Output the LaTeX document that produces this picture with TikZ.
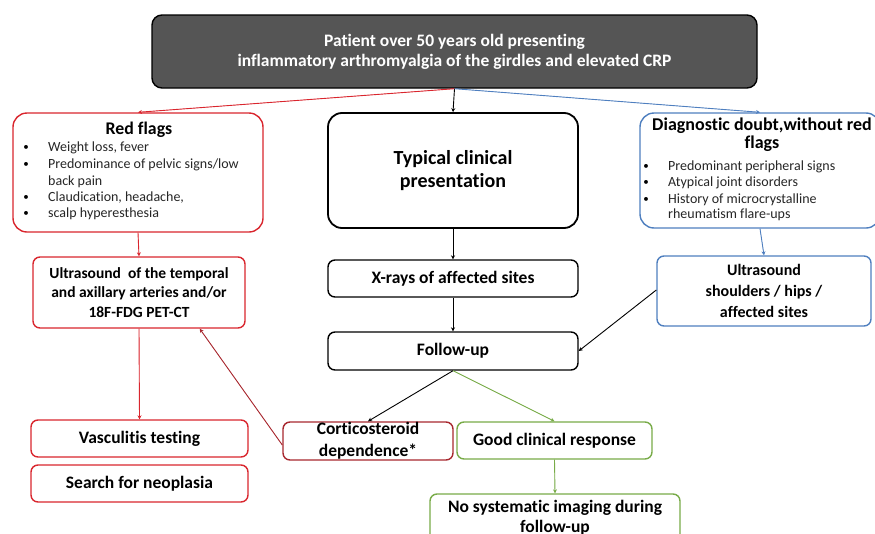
\documentclass[tikz,border=0pt]{standalone}
\usepackage{fontspec}
\setmainfont{Carlito}[RawFeature={-liga;-clig;-calt;-dlig}]
\usetikzlibrary{arrows.meta}
\definecolor{rf}{HTML}{D9262E}
\definecolor{drf}{HTML}{A8282F}
\definecolor{bl}{HTML}{4F7FBF}
\definecolor{gr}{HTML}{78AB48}
\definecolor{topfill}{HTML}{555555}
\tikzset{
  box/.style={draw, rounded corners=7pt, line width=1.4pt, fill=white, inner sep=0pt, align=center, font=\bfseries\fontsize{17.5}{21}\selectfont},
  bigbox/.style={box, rounded corners=14pt},
  txt/.style={inner sep=0pt, align=center},
  itm/.style={inner sep=0pt, anchor=west, text=black!85, font=\fontsize{14}{16}\selectfont},
  bul/.style={inner sep=0pt, font=\fontsize{11}{13}\selectfont},
  arr/.style={-{Stealth[length=4pt,width=4pt]}, line width=0.9pt},
}
\begin{document}
\begin{tikzpicture}[x=1pt,y=-1pt]
\useasboundingbox (0,0) rectangle (875,533);
\begin{scope}
\clip (0,0) rectangle (875,533);
% top
\node[box, draw=black, fill=topfill, text=white, rounded corners=10pt, minimum width=605pt, minimum height=73pt, font=\bfseries\fontsize{17.5}{20}\selectfont] (top) at (454.5,51.5) {Patient over 50 years old presenting\\inflammatory arthromyalgia of the girdles and elevated CRP};
% red flags
\node[bigbox, draw=rf, minimum width=250pt, minimum height=119pt] (red) at (138,172.5) {};
\node[txt, font=\bfseries\fontsize{17.8}{20}\selectfont] (redt) at (139,130) {Red flags};
\foreach \yy/\tt [count=\i] in {148/{Weight loss, fever},165/{Predominance of pelvic signs/low},182/{back pain},198/{Claudication, headache,},214/{scalp hyperesthesia}}{
  \node[itm] (redi\i) at (48,\yy) {\tt};
}
\foreach \yy in {148,165,198,214}{\node[bul] at (26,\yy) {•};}
% typical
\node[bigbox, draw=black, line width=1.8pt, minimum width=250pt, minimum height=115pt, font=\bfseries\fontsize{20}{23}\selectfont] (typ) at (453,170.5) {Typical clinical\\presentation};
% diagnostic doubt
\node[bigbox, draw=bl, minimum width=240pt, minimum height=115pt] (dd) at (760,170.5) {};
\node[txt, font=\bfseries\fontsize{18}{18}\selectfont] (ddt) at (762,135) {Diagnostic doubt,without red\\flags};
\foreach \yy/\tt [count=\i] in {167/{Predominant peripheral signs},183/{Atypical joint disorders},200/{History of microcrystalline},215/{rheumatism flare-ups}}{
  \node[itm] (ddi\i) at (668,\yy) {\tt};
}
\foreach \yy in {167,183,200}{\node[bul] at (646,\yy) {•};}
% second row
\node[box, draw=rf, minimum width=212pt, minimum height=71pt, font=\bfseries\fontsize{15.5}{19.5}\selectfont] (us1) at (139,292.5) {Ultrasound\ \ of the temporal\\and axillary arteries and/or\\18F-FDG PET-CT};
\node[box, draw=black, minimum width=250pt, minimum height=37pt] (xr) at (453,278.5) {X-rays of affected sites};
\node[box, draw=bl, minimum width=214pt, minimum height=70pt, font=\bfseries\fontsize{16}{21}\selectfont] (us2) at (764,291) {Ultrasound\\shoulders / hips /\\affected sites};
\node[box, draw=black, minimum width=250pt, minimum height=38pt] (fu) at (453,351) {Follow-up};
% bottom
\node[box, draw=rf, minimum width=217pt, minimum height=37pt] (vt) at (139.5,438.5) {Vasculitis testing};
\node[box, draw=rf, minimum width=217pt, minimum height=37pt] (sn) at (139.5,483.5) {Search for neoplasia};
\node[box, draw=drf, minimum width=170pt, minimum height=38pt, font=\bfseries\fontsize{17.5}{22}\selectfont] (cs) at (368,441) {Corticosteroid\\dependence*};
\node[box, draw=gr, minimum width=195pt, minimum height=37pt] (gc) at (554.5,440.5) {Good clinical response};
\node[box, draw=gr, minimum width=250pt, minimum height=48pt, font=\bfseries\fontsize{17.5}{20}\selectfont] (ns) at (555,518) {No systematic imaging during\\follow-up};
% connectors
\draw[arr] (top.south) -- (typ.north);
\draw[arr, draw=rf, fill=rf] (top.south) -- (red.north);
\draw[arr, draw=bl, fill=bl] (top.south) -- (dd.north);
\draw[arr, draw=rf, fill=rf] (red.south) -- (us1.north);
\draw[arr] (typ.south) -- (xr.north);
\draw[arr] (xr.south) -- (fu.north);
\draw[arr, draw=bl, fill=bl] (dd.south) -- ([xshift=4pt]dd.south |- us2.north);
\draw[arr] ([yshift=1pt]us2.west) -- (fu.east);
\draw[arr] (fu.south) -- (cs.north);
\draw[arr, draw=gr, fill=gr] (fu.south) -- (gc.north);
\draw[arr, draw=drf, fill=drf] ([yshift=-4pt]cs.west) -- ([xshift=-46pt]us1.south east);
\draw[arr, draw=rf, fill=rf] (us1.south) -- (vt.north);
\draw[arr, draw=gr, fill=gr] (gc.south) -- (ns.north);
\end{scope}
\end{tikzpicture}
\end{document}
